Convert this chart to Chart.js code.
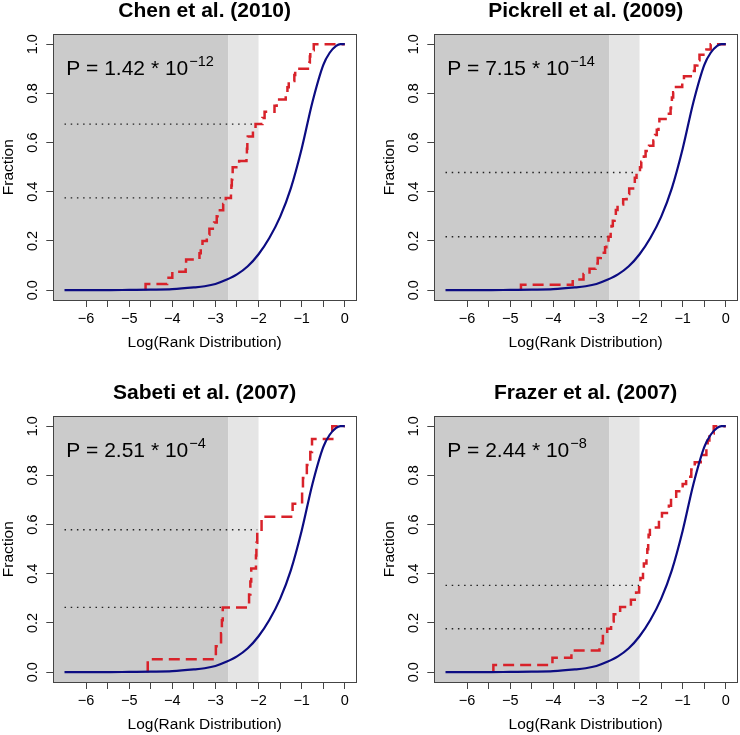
<!DOCTYPE html>
<html><head><meta charset="utf-8">
<script src="https://cdn.jsdelivr.net/npm/chart.js@4/dist/chart.umd.min.js"></script>
<style>
html,body{margin:0;padding:0;background:#fff;width:740px;height:735px;overflow:hidden;position:relative;}
canvas{position:absolute;}
</style></head><body>
<canvas id="c0" width="370" height="370" style="left:0px;top:0px"></canvas>
<canvas id="c1" width="370" height="370" style="left:381px;top:0px"></canvas>
<canvas id="c2" width="370" height="370" style="left:0px;top:382px"></canvas>
<canvas id="c3" width="370" height="370" style="left:381px;top:382px"></canvas>
<script>
// ---- data ----
const panelTitles = ['Chen et al. (2010)', 'Pickrell et al. (2009)', 'Sabeti et al. (2007)', 'Frazer et al. (2007)'];
const pMantissa = ['1.42', '7.15', '2.51', '2.44'];
const pExponent = ['\u221212', '\u221214', '\u22124', '\u22128'];

// sorted log-rank values of the candidate genes (red empirical CDF)
const chenX = [-4.62,-4.12,-4.00,-3.69,-3.68,-3.37,-3.34,-3.30,-3.20,-3.14,-3.03,-2.97,-2.95,-2.82,-2.76,-2.64,-2.63,-2.62,-2.61,-2.60,-2.45,-2.28,-2.27,-2.26,-2.25,-2.13,-2.07,-1.91,-1.86,-1.63,-1.58,-1.37,-1.33,-1.30,-1.17,-1.15,-0.82,-0.81,-0.80,-0.72];
const pickrellX = [-4.75,-3.55,-3.30,-3.16,-3.02,-2.97,-2.90,-2.80,-2.77,-2.72,-2.67,-2.65,-2.62,-2.58,-2.55,-2.51,-2.38,-2.30,-2.24,-2.15,-2.11,-2.07,-1.99,-1.96,-1.90,-1.86,-1.78,-1.68,-1.64,-1.60,-1.56,-1.54,-1.32,-1.28,-1.27,-1.25,-1.22,-1.19,-1.01,-0.97,-0.78,-0.72,-0.66,-0.61,-0.45,-0.35];
const sabetiX = [-4.57,-2.99,-2.87,-2.85,-2.83,-2.22,-2.19,-2.17,-2.06,-2.05,-2.03,-1.93,-1.21,-0.99,-0.97,-0.88,-0.80,-0.76,-0.29];
const frazerX = [-5.39,-4.02,-3.58,-2.93,-2.85,-2.75,-2.66,-2.60,-2.45,-2.20,-2.08,-2.01,-1.98,-1.92,-1.90,-1.84,-1.82,-1.80,-1.79,-1.76,-1.55,-1.48,-1.32,-1.27,-1.15,-1.00,-0.92,-0.80,-0.72,-0.58,-0.45,-0.42,-0.38,-0.28];

// genome-wide background distribution (blue curve)
const bgX = [-6.5,-6.0,-5.5,-5.0,-4.5,-4.0,-3.5,-3.25,-3.0,-2.75,-2.5,-2.25,-2.0,-1.75,-1.5,-1.25,-1.0,-0.75,-0.5,-0.35,-0.2,-0.1,0];
const bgY = [0.000,0.000,0.000,0.001,0.002,0.004,0.011,0.016,0.025,0.042,0.064,0.097,0.146,0.212,0.298,0.415,0.575,0.765,0.915,0.965,0.993,1.000,1.000];

const thresholds = [-2.7, -2.0];
const xTicks = [-6,-5.5,-5,-4.5,-4,-3.5,-3,-2.5,-2,-1.5,-1,-0.5,0];
const yTicks = [0,0.2,0.4,0.6,0.8,1.0];

const seriesList = [chenX, pickrellX, sabetiX, frazerX];

// ---- helpers ----
const FONT = "'Liberation Sans', Arial, Helvetica, sans-serif";
Chart.defaults.font.family = FONT;

function ecdfPoints(xs) {
  const n = xs.length;
  const pts = [{x: xs[0], y: 0}];
  xs.forEach((x, i) => pts.push({x: x, y: (i + 1) / n}));
  pts.push({x: bgX[bgX.length - 1], y: 1});
  return pts;
}
function ecdfAt(xs, t) { return xs.filter(v => v <= t).length / xs.length; }
function firstReach(xs, level) {
  const n = xs.length;
  for (let i = 0; i < n; i++) if ((i + 1) / n >= level - 1e-9) return xs[i];
  return xs[n - 1];
}
function minusLabel(v) {
  if (Math.abs(v - Math.round(v)) > 1e-9) return '';
  const r = Math.round(v);
  return r < 0 ? '\u2212' + Math.abs(r) : String(r);
}

const panelPlugin = {
  id: 'panelDecor',
  beforeDatasetsDraw(chart) {
    const {ctx, chartArea: a, scales: {x}} = chart;
    const x1 = x.getPixelForValue(thresholds[0]);
    const x2 = x.getPixelForValue(thresholds[1]);
    ctx.save();
    ctx.fillStyle = '#cbcbcb';
    ctx.fillRect(a.left, a.top, x1 - a.left, a.bottom - a.top);
    ctx.fillStyle = '#e5e5e5';
    ctx.fillRect(x1, a.top, x2 - x1, a.bottom - a.top);
    ctx.restore();
  },
  afterDatasetsDraw(chart) {
    const {ctx, chartArea: a, scales: {x, y}} = chart;
    const idx = chart.options.plugins.panelDecor.index;
    ctx.save();
    // P-value annotation
    const px = x.getPixelForValue(-6.46);
    const py = y.getPixelForValue(0.874);
    ctx.fillStyle = '#000';
    ctx.textBaseline = 'alphabetic';
    ctx.textAlign = 'left';
    ctx.font = '21px ' + FONT;
    const main = 'P = ' + pMantissa[idx] + ' * 10';
    ctx.fillText(main, px, py);
    const w = ctx.measureText(main).width;
    ctx.font = '14.5px ' + FONT;
    ctx.fillText(pExponent[idx], px + w + 1, py - 9.5);
    // plot box
    ctx.strokeStyle = '#444';
    ctx.lineWidth = 1;
    ctx.strokeRect(Math.round(a.left) + 0.5, Math.round(a.top) + 0.5, Math.round(a.right) - Math.round(a.left), Math.round(a.bottom) - Math.round(a.top));
    ctx.restore();
  }
};

function makeChart(i) {
  const xs = seriesList[i];
  const levels = thresholds.map(t => ecdfAt(xs, t));
  const dotted = levels.map(lv => ({
    data: [{x: bgX[0], y: lv}, {x: firstReach(xs, lv), y: lv}],
    borderColor: '#222', borderWidth: 1.4, borderDash: [1.5, 4.7], pointRadius: 0, fill: false
  }));
  const datasets = [
    { data: bgX.map((v, k) => ({x: v, y: bgY[k]})), borderColor: '#0c0c82', borderWidth: 2.2,
      pointRadius: 0, fill: false, tension: 0.4, cubicInterpolationMode: 'monotone' },
    { data: ecdfPoints(xs), stepped: true, borderColor: '#d8222a', borderWidth: 2.5,
      borderDash: [11, 6], pointRadius: 0, fill: false },
    ...dotted
  ];
  return new Chart(document.getElementById('c' + i), {
    type: 'line',
    data: { datasets },
    plugins: [panelPlugin],
    options: {
      responsive: false, animation: false, devicePixelRatio: 1,
      layout: { padding: { left: 0, right: 14, top: 0, bottom: 0 } },
      plugins: {
        legend: { display: false }, tooltip: { enabled: false },
        panelDecor: { index: i },
        title: { display: true, text: panelTitles[i], fullSize: false, color: '#000',
          font: { size: 21, weight: 'bold', family: FONT, lineHeight: 1 },
          padding: { top: 0.5, bottom: 12.8 } }
      },
      scales: {
        x: {
          type: 'linear', min: -6.76, max: 0.26,
          afterBuildTicks: s => { s.ticks = xTicks.map(v => ({value: v})); },
          afterFit: s => { s.height = 70; },
          grid: { display: true, drawOnChartArea: false, drawTicks: true, tickLength: 7, color: '#444', lineWidth: 1 },
          border: { display: true, color: '#444', width: 1 },
          ticks: { autoSkip: false, maxRotation: 0, minRotation: 0, padding: 3, color: '#000',
            font: { size: 14.5 }, callback: v => minusLabel(v) },
          title: { display: true, text: 'Log(Rank Distribution)', color: '#000',
            font: { size: 15.5, lineHeight: 1.2 }, padding: { top: 0, bottom: 18 } }
        },
        y: {
          type: 'linear', min: -0.04, max: 1.04,
          afterBuildTicks: s => { s.ticks = yTicks.map(v => ({value: v})); },
          afterFit: s => { s.width = 53.3; },
          grid: { display: true, drawOnChartArea: false, drawTicks: true, tickLength: 7, color: '#444', lineWidth: 1 },
          border: { display: true, color: '#444', width: 1 },
          ticks: { autoSkip: false, minRotation: 90, maxRotation: 90, crossAlign: 'center', padding: 3, color: '#000',
            font: { size: 14.5 }, callback: v => v.toFixed(1) },
          title: { display: true, text: 'Fraction', color: '#000',
            font: { size: 15.5, lineHeight: 1 }, padding: { top: 0.75, bottom: 0 } }
        }
      }
    }
  });
}
for (let i = 0; i < 4; i++) makeChart(i);
</script>
</body></html>
